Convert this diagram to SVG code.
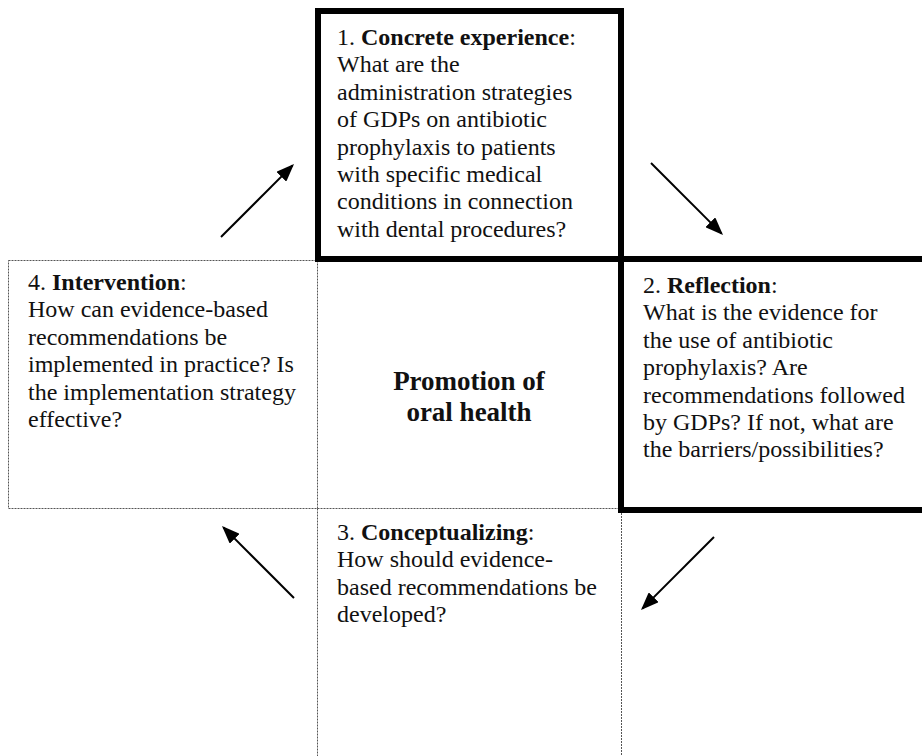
<svg xmlns="http://www.w3.org/2000/svg" width="922" height="756" viewBox="0 0 922 756">
<style>
  text { font-family: "Liberation Serif", "Times New Roman", serif; font-size: 24px; fill: #111; }
  .b { font-weight: bold; }
  .ctr { font-size: 27px; font-weight: bold; text-anchor: middle; }
  .thick { fill: none; stroke: #000; stroke-width: 6; }
  .dot { fill: none; stroke: #555; stroke-width: 1; stroke-dasharray: 2 1; }
  .arr { stroke: #000; stroke-width: 2; fill: none; marker-end: url(#ah); }
</style>
<defs>
  <marker id="ah" markerUnits="userSpaceOnUse" markerWidth="18" markerHeight="14" viewBox="0 0 18 14" refX="16" refY="7" orient="auto">
    <path d="M0,0 L18,7 L0,14 z" fill="#000"/>
  </marker>
</defs>
<rect width="922" height="756" fill="#fff"/>

<g id="node4">
  <rect class="dot" x="8.5" y="260.5" width="309" height="248"/>
  <text>
    <tspan x="28" y="290">4. <tspan class="b">Intervention</tspan>:</tspan>
    <tspan x="28" y="317.4">How can evidence-based</tspan>
    <tspan x="28" y="344.8">recommendations be</tspan>
    <tspan x="28" y="372.2">implemented in practice? Is</tspan>
    <tspan x="28" y="399.6">the implementation strategy</tspan>
    <tspan x="28" y="427">effective?</tspan>
  </text>
</g>

<g id="node3">
  <path class="dot" d="M317.5,508.5 H621.5 M317.5,508.5 V756 M621.5,510 V756"/>
  <text>
    <tspan x="337" y="540">3. <tspan class="b">Conceptualizing</tspan>:</tspan>
    <tspan x="337" y="567.4">How should evidence-</tspan>
    <tspan x="337" y="594.8">based recommendations be</tspan>
    <tspan x="337" y="622.2">developed?</tspan>
  </text>
</g>

<g id="center">
  <text class="ctr" x="469" y="390">Promotion of</text>
  <text class="ctr" x="469" y="421">oral health</text>
</g>

<g id="node2">
  <path class="thick" d="M940,259 H621 V510 H940"/>
  <text>
    <tspan x="643" y="293">2. <tspan class="b">Reflection</tspan>:</tspan>
    <tspan x="643" y="320.4">What is the evidence for</tspan>
    <tspan x="643" y="347.8">the use of antibiotic</tspan>
    <tspan x="643" y="375.2">prophylaxis? Are</tspan>
    <tspan x="643" y="402.6">recommendations followed</tspan>
    <tspan x="643" y="430">by GDPs? If not, what are</tspan>
    <tspan x="643" y="457.4">the barriers/possibilities?</tspan>
  </text>
</g>

<g id="node1">
  <rect class="thick" x="318" y="11" width="303" height="248"/>
  <text>
    <tspan x="337" y="45">1. <tspan class="b">Concrete experience</tspan>:</tspan>
    <tspan x="337" y="72.4">What are the</tspan>
    <tspan x="337" y="99.8">administration strategies</tspan>
    <tspan x="337" y="127.2">of GDPs on antibiotic</tspan>
    <tspan x="337" y="154.6">prophylaxis to patients</tspan>
    <tspan x="337" y="182">with specific medical</tspan>
    <tspan x="337" y="209.4">conditions in connection</tspan>
    <tspan x="337" y="236.8">with dental procedures?</tspan>
  </text>
</g>

<g id="connectors">
  <line class="arr" x1="221" y1="237" x2="292.6" y2="165.4"/>
  <line class="arr" x1="651" y1="163" x2="721.6" y2="233.6"/>
  <line class="arr" x1="714" y1="537" x2="642.4" y2="608.6"/>
  <line class="arr" x1="294" y1="598" x2="223.4" y2="527.4"/>
</g>
</svg>
